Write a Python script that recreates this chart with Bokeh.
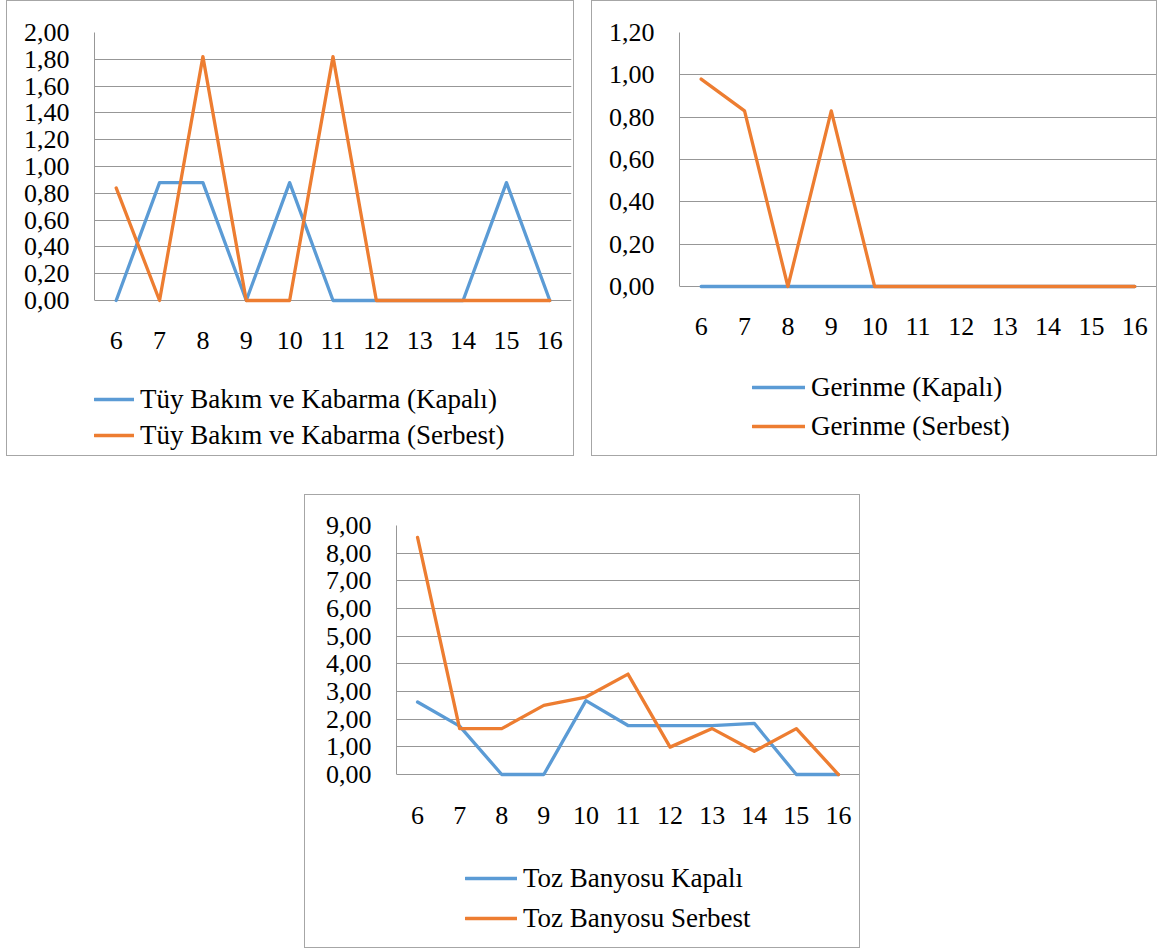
from bokeh.plotting import figure
from bokeh.models import (Range1d, FactorRange, FixedTicker, CustomJSTickFormatter,
                          Legend, LegendItem, Spacer)
from bokeh.layouts import column, row
from bokeh.embed import file_html
from bokeh.resources import INLINE

# ---------------- data ----------------
days = ["6", "7", "8", "9", "10", "11", "12", "13", "14", "15", "16"]

tuy_kapali = [0.00, 0.88, 0.88, 0.00, 0.88, 0.00, 0.00, 0.00, 0.00, 0.88, 0.00]
tuy_serbest = [0.84, 0.00, 1.82, 0.00, 0.00, 1.82, 0.00, 0.00, 0.00, 0.00, 0.00]

ger_kapali = [0.00, 0.00, 0.00, 0.00, 0.00, 0.00, 0.00, 0.00, 0.00, 0.00, 0.00]
ger_serbest = [0.98, 0.83, 0.00, 0.83, 0.00, 0.00, 0.00, 0.00, 0.00, 0.00, 0.00]

toz_kapali = [2.62, 1.75, 0.00, 0.00, 2.67, 1.77, 1.77, 1.77, 1.85, 0.00, 0.00]
toz_serbest = [8.57, 1.66, 1.66, 2.50, 2.80, 3.63, 0.99, 1.66, 0.84, 1.66, 0.00]

ticks_tuy = [0.0, 0.2, 0.4, 0.6, 0.8, 1.0, 1.2, 1.4, 1.6, 1.8, 2.0]
ticks_ger = [0.0, 0.2, 0.4, 0.6, 0.8, 1.0, 1.2]
ticks_toz = [0, 1, 2, 3, 4, 5, 6, 7, 8, 9]

labels_tuy = ["Tüy Bakım ve Kabarma (Kapalı)", "Tüy Bakım ve Kabarma (Serbest)"]
labels_ger = ["Gerinme (Kapalı)", "Gerinme (Serbest)"]
labels_toz = ["Toz Banyosu Kapalı", "Toz Banyosu Serbest"]

BLUE = "#5B9BD5"
ORANGE = "#ED7D31"
GRID = "#979797"
FONT = "Liberation Serif"
FS = "26px"
LFS = "27px"


def make_chart(width, height, mbl, mbr, mbt, mbb, y0, y1, ticks, s1, s2, labels,
               leg_loc, leg_spacing, glyph_w):
    p = figure(width=width, height=height, x_range=FactorRange(factors=days, range_padding=0),
               y_range=Range1d(y0, y1), output_backend="svg", toolbar_location=None,
               min_border_left=mbl, min_border_right=mbr, min_border_top=mbt,
               min_border_bottom=mbb, background_fill_color="white",
               border_fill_color="white", outline_line_color=None,
               styles={"border": "1.5px solid #A6A6A6", "box-sizing": "border-box"})
    p.xgrid.grid_line_color = None
    p.ygrid.grid_line_color = GRID
    p.ygrid.grid_line_width = 1
    p.yaxis.ticker = FixedTicker(ticks=ticks)
    p.yaxis.formatter = CustomJSTickFormatter(code="return tick.toFixed(2).replace('.', ',');")
    p.yaxis.bounds = (0, y1)
    for ax in (p.xaxis[0], p.yaxis[0]):
        ax.major_tick_line_color = None
        ax.minor_tick_line_color = None
        ax.major_tick_out = 0
        ax.major_tick_in = 0
        ax.minor_tick_out = 0
        ax.minor_tick_in = 0
        ax.major_label_text_font = FONT
        ax.major_label_text_font_size = FS
        ax.major_label_text_color = "black"
    p.yaxis.axis_line_color = GRID
    p.yaxis.axis_line_width = 1
    p.yaxis.major_label_standoff = 25
    p.xaxis.axis_line_color = None
    p.xaxis.fixed_location = 0
    p.xaxis.major_label_standoff = 32

    r1 = p.line(days, s1, line_color=BLUE, line_width=3.3, line_join="round", line_cap="round")
    r2 = p.line(days, s2, line_color=ORANGE, line_width=3.3, line_join="round", line_cap="round")

    legend = Legend(items=[LegendItem(label=labels[0], renderers=[r1]),
                           LegendItem(label=labels[1], renderers=[r2])],
                    location=leg_loc, orientation="vertical",
                    glyph_width=glyph_w, glyph_height=32, label_height=32,
                    label_standoff=6, spacing=leg_spacing, padding=0, margin=0,
                    border_line_color=None, background_fill_alpha=0,
                    label_text_font=FONT, label_text_font_size=LFS,
                    label_text_color="black")
    p.add_layout(legend, "center")
    return p


p1 = make_chart(568, 456, 87, 4, 31, 4, -1.1418, 2.0, ticks_tuy,
                tuy_kapali, tuy_serbest, labels_tuy, (0, 2), 4, 40)
p2 = make_chart(566, 456, 87, 2, 31, 4, -0.789, 1.2, ticks_ger,
                ger_kapali, ger_serbest, labels_ger, (73, 11), 7, 53)
p3 = make_chart(556, 454, 91, 2, 30, 4, -6.18, 9.0, ticks_toz,
                toz_kapali, toz_serbest, labels_toz, (69, 11), 8, 52)

layout = column(row(Spacer(width=6), p1, Spacer(width=17), p2), Spacer(height=38),
                row(Spacer(width=304), p3))

open("out.html", "w").write(file_html(layout, INLINE))
